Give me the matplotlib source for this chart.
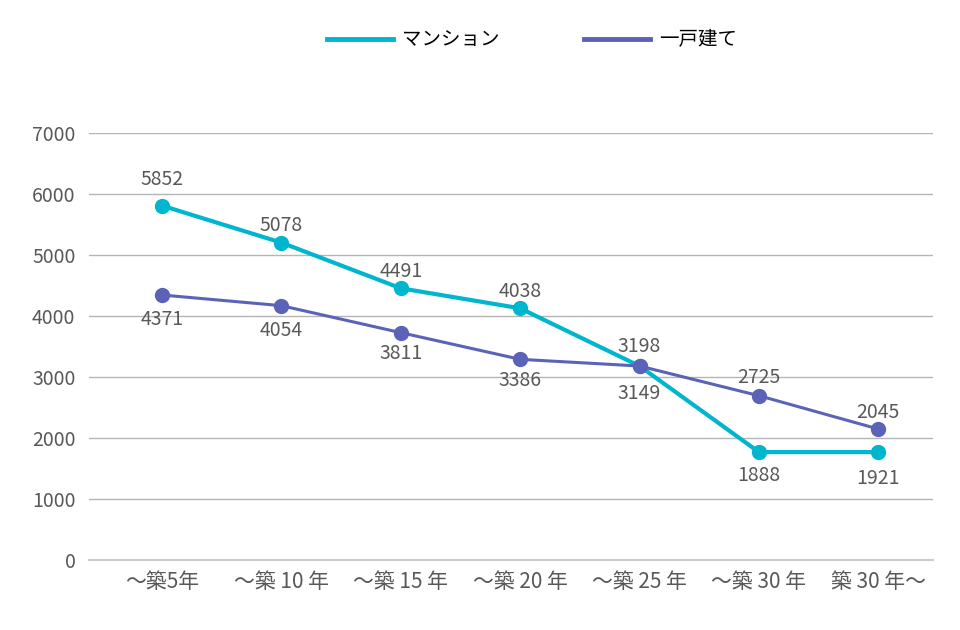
import matplotlib
matplotlib.use('Agg')
import matplotlib.pyplot as plt

plt.rcParams['font.family'] = ['Noto Sans CJK JP', 'DejaVu Sans']

# データ
categories = ['～築5年', '～築 10 年', '～築 15 年', '～築 20 年', '～築 25 年', '～築 30 年', '築 30 年～']
mansion_vals = [5808, 5202, 4454, 4126, 3180, 1770, 1770]   # 点の位置
house_vals = [4344, 4169, 3727, 3290, 3180, 2694, 2148]
mansion_labels = ['5852', '5078', '4491', '4038', '3198', '1888', '1921']
house_labels = ['4371', '4054', '3811', '3386', '3149', '2725', '2045']
# ラベルのずらし量(pt)  正=上 負=下
mansion_off = [19, 12, 12, 12, 14, -17, -19]
house_off = [-18, -18, -15, -15, -20, 13, 12]

c_man = '#00b6cf'
c_house = '#5a63b8'

fig = plt.figure(figsize=(9.6, 6.3), dpi=100)
ax = fig.add_axes([0.093, 0.111, 0.879, 0.678])

x = list(range(len(categories)))
ax.plot(x, mansion_vals, color=c_man, lw=3.0, marker='o', ms=10, label='マンション', zorder=3)
ax.plot(x, house_vals, color=c_house, lw=2.2, marker='o', ms=10, label='一戸建て', zorder=4)

for i in x:
    ax.annotate(mansion_labels[i], (i, mansion_vals[i]), xytext=(0, mansion_off[i]),
                textcoords='offset points', ha='center', va='center', fontsize=14, color='#595959')
    ax.annotate(house_labels[i], (i, house_vals[i]), xytext=(0, house_off[i]),
                textcoords='offset points', ha='center', va='center', fontsize=14, color='#595959')

ax.set_xlim(-0.61, 6.46)
ax.set_ylim(0, 7000)
ax.set_yticks(range(0, 7001, 1000))
ax.set_xticks(x)
ax.set_xticklabels(categories, fontsize=15, color='#595959')
ax.tick_params(axis='y', labelsize=14, labelcolor='#595959', length=0, pad=10)
ax.tick_params(axis='x', length=0, pad=8)
ax.grid(axis='y', color='#b5b5b5', lw=1)
ax.set_axisbelow(True)
for s in ['top', 'right', 'left']:
    ax.spines[s].set_visible(False)
ax.spines['bottom'].set_color('#cccccc')
ax.spines['bottom'].set_linewidth(1.6)

leg = fig.legend(loc='center', bbox_to_anchor=(532 / 960, 1 - 40 / 630), ncol=2, frameon=False,
                 fontsize=14, handlelength=3.4, columnspacing=4.3, handletextpad=0.5,
                 markerscale=0)
for ln in leg.get_lines():
    ln.set_linewidth(3.5)

plt.savefig('out.png', dpi=100)
